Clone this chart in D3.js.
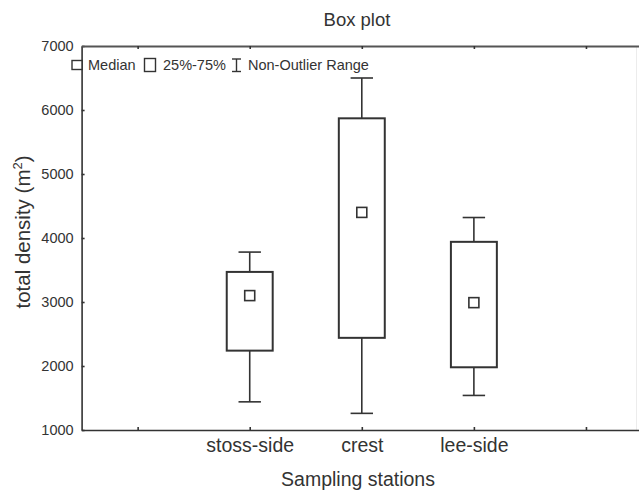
<!DOCTYPE html>
<html>
<head>
<meta charset="utf-8">
<script src="https://cdn.jsdelivr.net/npm/d3@7"></script>
<style>
  html, body { margin: 0; padding: 0; background: #fff; }
  svg { display: block; font-family: "Liberation Sans", Arial, sans-serif; }
</style>
</head>
<body>
<svg id="chart" width="639" height="490"></svg>
<script>
// ---- data ----
const categories   = ["stoss-side", "crest", "lee-side"];
const catPositions = [2, 3, 4];
const xTickValues  = [1, 2, 3, 4, 5];
const whiskerLow   = [1440, 1260, 1540];
const q1Values     = [2240, 2440, 1980];
const medianValues = [3100, 4400, 2990];
const q3Values     = [3470, 5870, 3940];
const whiskerHigh  = [3780, 6500, 4320];
const yTickValues  = [1000, 2000, 3000, 4000, 5000, 6000, 7000];
const titleText    = "Box plot";
const xTitle       = "Sampling stations";
const legendLabels = ["Median", "25%-75%", "Non-Outlier Range"];

(function () {
// ---- layout ----
const svg = d3.select("#chart");
const ink = "#333";
const pLeft = 81.6, pRight = 642, pTop = 46, pBottom = 430;
const x = d3.scaleLinear().domain([0.5, 5.5]).range([pLeft, pRight]);
const y = d3.scaleLinear().domain([1000, 7000]).range([pBottom, pTop]);

// faint right frame remnant
svg.append("line").attr("x1", 636.5).attr("x2", 636.5).attr("y1", pTop).attr("y2", pBottom)
  .attr("stroke", "#ececec").attr("stroke-width", 1);

// axes
const yAxis = d3.axisLeft(y).tickValues(yTickValues).tickSize(-3).tickSizeOuter(0)
  .tickPadding(8).tickFormat(d3.format("d"));
const gy = svg.append("g").attr("transform", `translate(${pLeft},0)`).call(yAxis);
gy.selectAll("text").attr("font-size", "14.5px").attr("fill", ink);

const labelAt = p => { const i = catPositions.indexOf(p); return i >= 0 ? categories[i] : ""; };
const xAxis = d3.axisBottom(x).tickValues(xTickValues).tickSize(-3).tickSizeOuter(0)
  .tickPadding(8.5).tickFormat(labelAt);
const gx = svg.append("g").attr("transform", `translate(0,${pBottom})`).call(xAxis);
gx.selectAll("text").attr("font-size", "19.5px").attr("fill", ink);

const xTop = d3.axisTop(x).tickValues(xTickValues).tickSize(-3).tickSizeOuter(0).tickFormat("");
const gt = svg.append("g").attr("transform", `translate(0,${pTop})`).call(xTop);

[gy, gx, gt].forEach(g => {
  g.select(".domain").attr("stroke", ink).attr("stroke-width", 1.6);
  g.selectAll(".tick line").attr("stroke", ink).attr("stroke-width", 1.6);
});
gt.select(".domain").attr("stroke", "#555").attr("stroke-width", 2);

// boxes
const boxW = 0.41, capW = 0.2, medS = 10;
const g = svg.append("g");
categories.forEach((c, i) => {
  const cx = x(catPositions[i]);
  const hw = (x(boxW) - x(0)) / 2;
  const cw = (x(capW) - x(0)) / 2;
  g.append("line").attr("x1", cx).attr("x2", cx).attr("y1", y(q3Values[i])).attr("y2", y(whiskerHigh[i]))
    .attr("stroke", ink).attr("stroke-width", 1.6);
  g.append("line").attr("x1", cx).attr("x2", cx).attr("y1", y(q1Values[i])).attr("y2", y(whiskerLow[i]))
    .attr("stroke", ink).attr("stroke-width", 1.6);
  g.append("line").attr("x1", cx - cw).attr("x2", cx + cw).attr("y1", y(whiskerHigh[i])).attr("y2", y(whiskerHigh[i]))
    .attr("stroke", ink).attr("stroke-width", 1.6);
  g.append("line").attr("x1", cx - cw).attr("x2", cx + cw).attr("y1", y(whiskerLow[i])).attr("y2", y(whiskerLow[i]))
    .attr("stroke", ink).attr("stroke-width", 1.6);
  g.append("rect").attr("x", cx - hw).attr("y", y(q3Values[i]))
    .attr("width", 2 * hw).attr("height", y(q1Values[i]) - y(q3Values[i]))
    .attr("fill", "#fff").attr("stroke", ink).attr("stroke-width", 2);
  g.append("rect").attr("x", cx - medS / 2).attr("y", y(medianValues[i]) - medS / 2)
    .attr("width", medS).attr("height", medS)
    .attr("fill", "#fff").attr("stroke", ink).attr("stroke-width", 1.6);
});

// legend
const lg = svg.append("g");
const legY = 65;
lg.append("rect").attr("x", 72).attr("y", legY - 4.5).attr("width", 10).attr("height", 9)
  .attr("fill", "#fff").attr("stroke", ink).attr("stroke-width", 1.4);
lg.append("text").attr("x", 88).attr("y", legY + 5).attr("font-size", "14.5px").attr("fill", ink).text(legendLabels[0]);
lg.append("rect").attr("x", 144.5).attr("y", legY - 6.5).attr("width", 11).attr("height", 13)
  .attr("fill", "#fff").attr("stroke", ink).attr("stroke-width", 1.4);
lg.append("text").attr("x", 163).attr("y", legY + 5).attr("font-size", "14.5px").attr("fill", ink).text(legendLabels[1]);
const wx = 236.5;
lg.append("line").attr("x1", wx).attr("x2", wx).attr("y1", legY - 6).attr("y2", legY + 6.5).attr("stroke", ink).attr("stroke-width", 1.4);
lg.append("line").attr("x1", wx - 4.5).attr("x2", wx + 4.5).attr("y1", legY - 6).attr("y2", legY - 6).attr("stroke", ink).attr("stroke-width", 1.4);
lg.append("line").attr("x1", wx - 4.5).attr("x2", wx + 4.5).attr("y1", legY + 6.5).attr("y2", legY + 6.5).attr("stroke", ink).attr("stroke-width", 1.4);
lg.append("text").attr("x", 248).attr("y", legY + 5).attr("font-size", "14.5px").attr("fill", ink).text(legendLabels[2]);

// titles
svg.append("text").attr("x", 357).attr("y", 26).attr("text-anchor", "middle")
  .attr("font-size", "18.5px").attr("fill", ink).text(titleText);
svg.append("text").attr("x", 358).attr("y", 486).attr("text-anchor", "middle")
  .attr("font-size", "19.5px").attr("fill", ink).text(xTitle);
const yt = svg.append("text").attr("transform", "translate(30,232) rotate(-90)")
  .attr("text-anchor", "middle").attr("font-size", "20.5px").attr("fill", ink);
yt.append("tspan").text("total density (m");
yt.append("tspan").attr("font-size", "13px").attr("dy", "-8").text("2");
yt.append("tspan").attr("dy", "8").text(")");
})();
</script>
</body>
</html>
